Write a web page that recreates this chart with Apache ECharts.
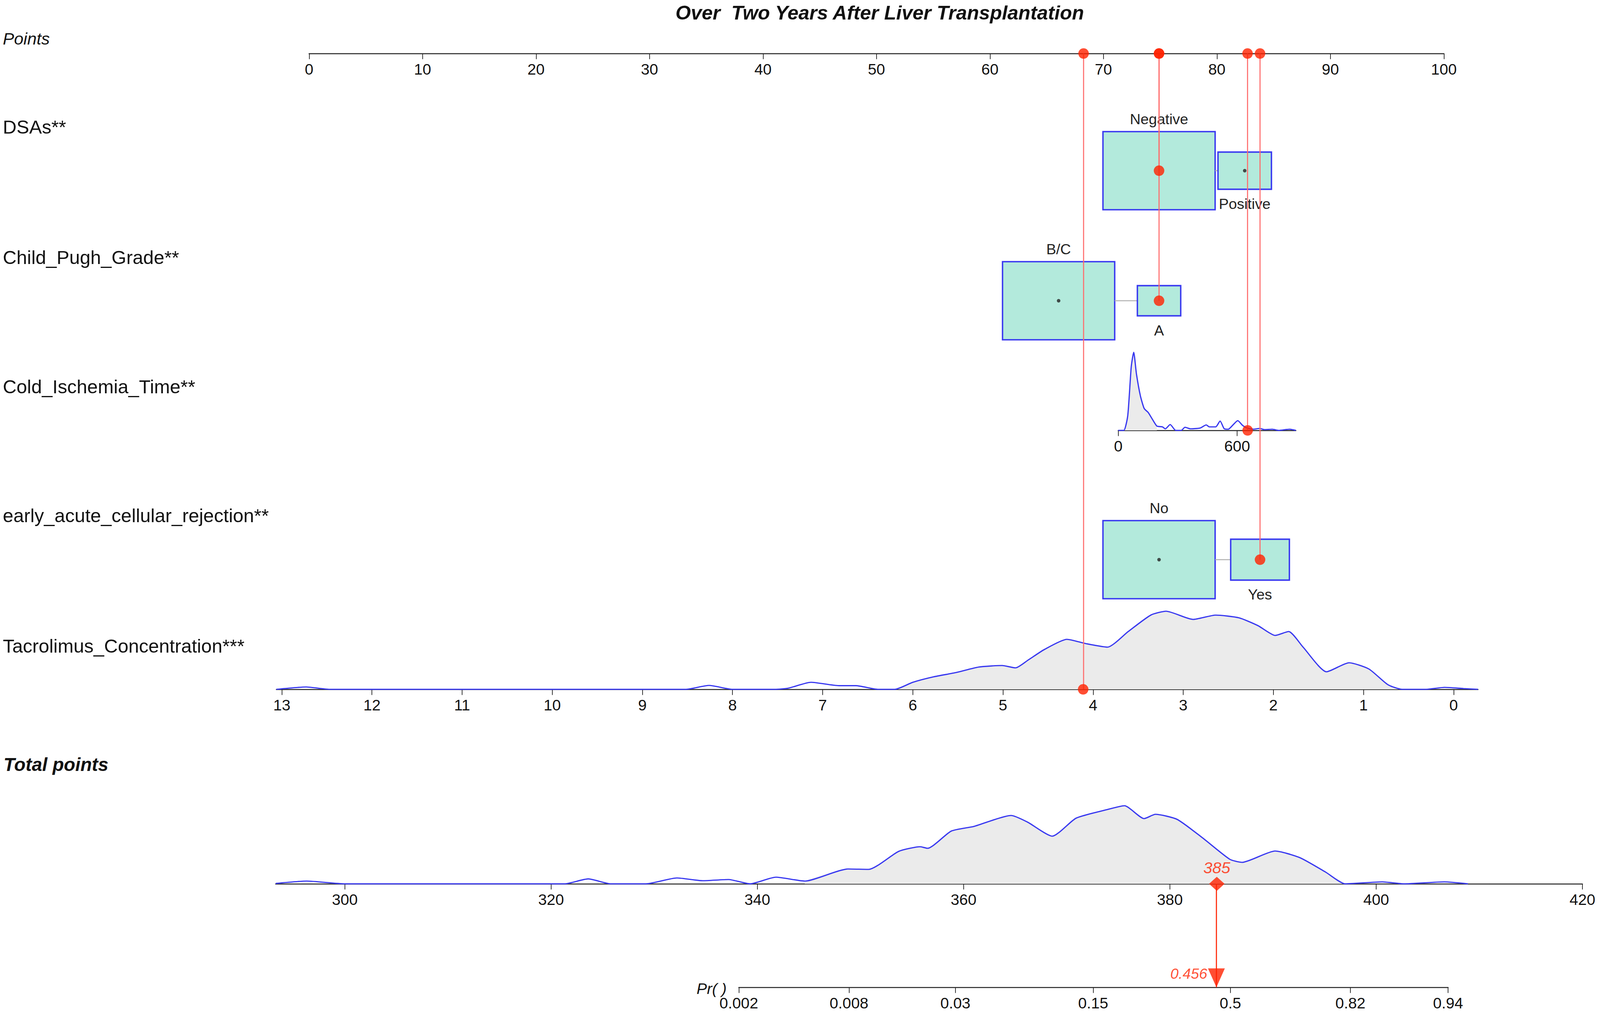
<!DOCTYPE html>
<html lang="en">
<head>
<meta charset="UTF-8">
<title>Nomogram - Over Two Years After Liver Transplantation</title>
<script src="https://cdn.jsdelivr.net/npm/echarts@6/dist/echarts.min.js"></script>
<style>
    html, body { margin: 0; padding: 0; background: #fff; overflow: hidden; }
    #main { width: 100vw; height: 100vh; }
</style>
</head>
<body>
<div id="main"></div>
<script type="text/javascript">
// ---------- data ----------
var pointTicks = [0, 10, 20, 30, 40, 50, 60, 70, 80, 90, 100];

// categorical predictors: category, points of its box centre, share of patients
var dsaCats = ['Negative', 'Positive'];
var dsaPts = [74.9, 82.45];
var dsaShare = [0.815, 0.185];

var childCats = ['B/C', 'A'];
var childPts = [66.05, 74.9];
var childShare = [0.87, 0.13];

var rejCats = ['No', 'Yes'];
var rejPts = [74.9, 83.8];
var rejShare = [0.785, 0.215];

// Cold_Ischemia_Time: ticks + density (value, relative height)
var coldTicks = [0, 600];
var coldDens = [[0, 0], [28, 0], [48, 0.19], [65.6, 0.815], [78, 1.0], [91.7, 0.725], [111.5, 0.445],
    [131, 0.28], [151, 0.23], [167, 0.165], [195, 0.055], [222.7, 0.045], [238, 0.02], [262, 0.075],
    [290, 0], [317.6, 0], [337, 0.04], [365, 0.02], [413, 0.03], [444, 0.07], [460, 0.045], [492, 0.045],
    [514, 0.12], [535, 0.02], [555, 0.015], [579, 0.07], [603, 0.125], [627, 0.065], [650, 0.03],
    [682, 0.015], [714, 0.025], [737, 0.01], [777, 0.015], [809, 0], [864, 0.015], [896, 0]];
var coldFill = [28, 195];

// Tacrolimus_Concentration (reversed scale)
var tacroTicks = [0, 1, 2, 3, 4, 5, 6, 7, 8, 9, 10, 11, 12, 13];
var tacroDens = [[13.06, 0], [12.73, 0.03], [12.47, 0], [8.52, 0], [8.26, 0.05], [8.0, 0], [7.53, 0],
    [7.38, 0.015], [7.13, 0.09], [6.82, 0.047], [6.63, 0.047], [6.39, 0], [6.2, 0], [6.0, 0.09],
    [5.77, 0.16], [5.52, 0.215], [5.27, 0.285], [5.01, 0.305], [4.86, 0.275], [4.72, 0.375],
    [4.54, 0.51], [4.29, 0.64], [4.08, 0.585], [3.84, 0.54], [3.61, 0.74], [3.36, 0.95], [3.19, 1.0],
    [2.89, 0.895], [2.64, 0.95], [2.38, 0.915], [2.17, 0.815], [1.98, 0.69], [1.83, 0.74], [1.67, 0.54],
    [1.41, 0.225], [1.16, 0.34], [0.94, 0.26], [0.73, 0.06], [0.57, 0], [0.31, 0], [0.10, 0.025],
    [-0.11, 0.01], [-0.27, 0]];
var tacroFill = [0.57, 6.2];

// Total points
var totalTicks = [300, 320, 340, 360, 380, 400, 420];
var totalDens = [[293.3, 0.005], [296.3, 0.035], [300, 0], [321.3, 0], [323.6, 0.063], [325.8, 0],
    [329.2, 0], [332.2, 0.075], [334.7, 0.04], [337.2, 0.055], [339.3, 0], [341.8, 0.085], [344.6, 0.035],
    [348.8, 0.19], [350.8, 0.185], [353.7, 0.415], [355.8, 0.475], [356.5, 0.455], [358.8, 0.675],
    [361, 0.735], [364.6, 0.875], [366.2, 0.79], [368.6, 0.61], [370.9, 0.84], [373.9, 0.95],
    [375.6, 1.0], [377.5, 0.835], [378.6, 0.89], [380.7, 0.825], [383.2, 0.585], [385.8, 0.315],
    [387, 0.275], [390.2, 0.42], [392.6, 0.335], [395.1, 0.15], [397, 0], [400.6, 0.025], [402.7, 0],
    [406.6, 0.025], [408.9, 0]];
var totalFill = [344.6, 397];

// probability scale
var prTicks = [0.002, 0.008, 0.03, 0.15, 0.5, 0.82, 0.94];

// the patient marked in red
var selDSA = 'Negative', selChild = 'A', selCold = 653, selRej = 'Yes', selTacro = 4.11;
var selPoints = [74.9, 74.9, 82.7, 83.8, 68.25]; // DSAs, Child_Pugh, Cold, rejection, Tacrolimus
var selProb = 0.456;

// ---------- layout / style (designed on a 4550 x 2604 page, scaled to the real one) ----------
var chart = echarts.init(document.getElementById('main'), null, { renderer: 'svg' });
var SX = chart.getWidth() / 4550, SY = chart.getHeight() / 2604, SF = Math.min(SX, SY);
function X(v) { return v * SX; }
function Y(v) { return v * SY; }
function F(v) { return v * SF; }

var FONT = '"Liberation Sans", Arial, sans-serif';
var rowY = { points: 137, dsa: 437, child: 770, cold: 1102, rej: 1433, tacro: 1765 };
var BOX_W = 319, BOX_H = 200;
var RED = '#ff2200', GUIDE = '#ff6b6b', BLUE = '#3838f0', MINT = '#b3eadc', GREY = '#ebebeb';

function logit(p) { return Math.log(p / (1 - p)); }

var totalSel = selPoints.reduce(function (a, b) { return a + b; }, 0);

function xAx(grid, min, max, ticks, fmt, extra) {
    var a = {
        gridIndex: grid, type: 'value', min: min, max: max, position: 'bottom',
        axisLine: { show: true, onZero: false, lineStyle: { color: '#222', width: F(3) } },
        axisTick: { show: true, length: F(16), customValues: ticks, lineStyle: { color: '#222', width: F(2) } },
        axisLabel: { show: true, margin: F(22), customValues: ticks, color: '#111', fontSize: F(44), fontFamily: FONT },
        splitLine: { show: false }
    };
    if (fmt) a.axisLabel.formatter = fmt;
    if (extra) for (var k in extra) a[k] = extra[k];
    return a;
}
function hidden(grid, min, max, inverse) {
    return { gridIndex: grid, type: 'value', min: min, max: max, inverse: !!inverse, show: false,
        axisLine: { onZero: false }, splitLine: { show: false } };
}
function gridAt(left, width, top, height) {
    return { left: X(left), width: X(width), top: Y(top), height: Y(height), outerBoundsMode: 'none' };
}

function boxSeries(cats, pts, share, y) {
    var maxShare = Math.max.apply(null, share);
    return {
        type: 'custom', xAxisIndex: 1, yAxisIndex: 1, z: 3, clip: false, silent: true,
        data: pts.map(function (p, i) { return [p, y, share[i]]; }),
        renderItem: function (params, api) {
            var i = params.dataIndex;
            var c = api.coord([api.value(0), api.value(1)]);
            var s = Math.sqrt(api.value(2) / maxShare);
            var w = X(BOX_W) * s, h = Y(BOX_H) * s;
            var kids = [];
            if (i > 0) {
                var c0 = api.coord([pts[i - 1], y]);
                var w0 = X(BOX_W) * Math.sqrt(share[i - 1] / maxShare);
                kids.push({ type: 'line', shape: { x1: c0[0] + w0 / 2, y1: c[1], x2: c[0] - w / 2, y2: c[1] },
                    style: { stroke: '#b0b0b0', lineWidth: F(3) } });
            }
            kids.push({ type: 'rect', shape: { x: c[0] - w / 2, y: c[1] - h / 2, width: w, height: h },
                style: { fill: MINT, stroke: BLUE, lineWidth: F(4) } });
            kids.push({ type: 'text', style: { text: cats[i], x: c[0],
                y: i === 0 ? c[1] - h / 2 - Y(32) : c[1] + h / 2 + Y(37),
                fill: '#222', fontSize: F(42), fontFamily: FONT, align: 'center', verticalAlign: 'middle' } });
            return { type: 'group', children: kids };
        }
    };
}

function densitySeries(gi, dens, fill) {
    var sub = dens.filter(function (d) { return d[0] >= fill[0] && d[0] <= fill[1]; });
    return [
        { type: 'line', xAxisIndex: gi, yAxisIndex: gi, data: sub, showSymbol: false, smooth: 0.2,
          lineStyle: { opacity: 0 }, areaStyle: { color: GREY, opacity: 1 }, clip: false, z: 2, silent: true },
        { type: 'line', xAxisIndex: gi, yAxisIndex: gi, data: dens, showSymbol: false, smooth: 0.2,
          lineStyle: { color: BLUE, width: F(3.5) }, clip: false, z: 3, silent: true }
    ];
}

function label(text, left, cy, size, weight, style) {
    return { text: text, left: X(left), top: Y(cy) - F(size) / 2, padding: 0,
        textStyle: { fontSize: F(size), lineHeight: F(size), fontFamily: FONT, color: '#111',
            fontWeight: weight || 'normal', fontStyle: style || 'normal' } };
}

var lp = logit(selProb);
var boxRedDots = [
    [dsaPts[dsaCats.indexOf(selDSA)], rowY.dsa],
    [childPts[childCats.indexOf(selChild)], rowY.child],
    [rejPts[rejCats.indexOf(selRej)], rowY.rej]
];
var boxBlackDots = [];
[[dsaCats, dsaPts, selDSA, rowY.dsa], [childCats, childPts, selChild, rowY.child], [rejCats, rejPts, selRej, rowY.rej]]
    .forEach(function (r) {
        r[0].forEach(function (c, i) { if (c !== r[2]) boxBlackDots.push([r[1][i], r[3]]); });
    });
var guideRows = [rowY.dsa, rowY.child, rowY.cold, rowY.rej, rowY.tacro];

var option = {
    animation: false,
    backgroundColor: '#fff',
    title: [
        label('Over\u00a0 Two Years After Liver Transplantation', 1921, 32, 56, 'bold', 'italic'),
        label('Points', 8, 99, 48, 'normal', 'italic'),
        label('DSAs**', 8, 325, 54),
        label('Child_Pugh_Grade**', 8, 659, 54),
        label('Cold_Ischemia_Time**', 8, 990, 54),
        label('early_acute_cellular_rejection**', 8, 1320, 54),
        label('Tacrolimus_Concentration***', 8, 1654, 54),
        label('Total points', 10, 1957, 53, 'bold', 'italic'),
        label('Pr( )', 1981, 2531, 44, 'normal', 'italic')
    ],
    grid: [
        gridAt(879, 3227, 37, 100),     // points
        gridAt(879, 3227, 0, 2604),     // overlay in points units
        gridAt(3180, 505, 902, 200),    // cold ischemia
        gridAt(786, 3417, 1565, 200),   // tacrolimus
        gridAt(784, 3716, 2063, 200),   // total points
        gridAt(2101, 2017, 2263, 265)   // probability
    ],
    xAxis: [
        xAx(0, 0, 100, pointTicks),
        hidden(1, 0, 100),
        xAx(2, 0, 896, coldTicks),
        xAx(3, -0.27, 13.06, tacroTicks, null, { inverse: true }),
        xAx(4, 293.3, 420, totalTicks),
        xAx(5, logit(prTicks[0]), logit(prTicks[prTicks.length - 1]), prTicks.map(logit), function (v) {
            var p = 1 / (1 + Math.exp(-v)), best = prTicks[0];
            prTicks.forEach(function (t) { if (Math.abs(t - p) < Math.abs(best - p)) best = t; });
            return String(best);
        })
    ],
    yAxis: [
        hidden(0, 0, 1),
        hidden(1, 0, 2604, true),
        hidden(2, 0, 1),
        hidden(3, 0, 1),
        hidden(4, 0, 1),
        hidden(5, 0, 1)
    ],
    series: [].concat(
        [
            boxSeries(dsaCats, dsaPts, dsaShare, rowY.dsa),
            boxSeries(childCats, childPts, childShare, rowY.child),
            boxSeries(rejCats, rejPts, rejShare, rowY.rej),
            { type: 'scatter', xAxisIndex: 1, yAxisIndex: 1, data: boxBlackDots, symbolSize: F(10),
              itemStyle: { color: '#222' }, z: 4, clip: false, silent: true }
        ],
        densitySeries(2, coldDens, coldFill),
        densitySeries(3, tacroDens, tacroFill),
        densitySeries(4, totalDens, totalFill),
        [
            // red guide lines from the points scale down to each predictor
            { type: 'custom', xAxisIndex: 1, yAxisIndex: 1, z: 5, clip: false, silent: true,
              data: selPoints.map(function (p, i) { return [p, guideRows[i]]; }),
              renderItem: function (params, api) {
                  var a = api.coord([api.value(0), rowY.points]);
                  var b = api.coord([api.value(0), api.value(1)]);
                  return { type: 'line', shape: { x1: a[0], y1: a[1], x2: b[0], y2: b[1] },
                      style: { stroke: GUIDE, lineWidth: F(3) } };
              } },
            { type: 'scatter', xAxisIndex: 0, yAxisIndex: 0, z: 6, clip: false, silent: true,
              data: selPoints.map(function (p) { return [p, 0]; }), symbolSize: F(30), itemStyle: { color: RED } },
            { type: 'scatter', xAxisIndex: 1, yAxisIndex: 1, z: 6, clip: false, silent: true,
              data: boxRedDots, symbolSize: F(30), itemStyle: { color: RED } },
            { type: 'scatter', xAxisIndex: 2, yAxisIndex: 2, z: 6, clip: false, silent: true,
              data: [[selCold, 0]], symbolSize: F(30), itemStyle: { color: RED } },
            { type: 'scatter', xAxisIndex: 3, yAxisIndex: 3, z: 6, clip: false, silent: true,
              data: [[selTacro, 0]], symbolSize: F(30), itemStyle: { color: RED } },
            { type: 'scatter', xAxisIndex: 4, yAxisIndex: 4, z: 6, clip: false, silent: true,
              data: [[totalSel, 0]], symbol: 'diamond', symbolSize: [F(44), F(40)], itemStyle: { color: RED },
              label: { show: true, position: 'top', distance: F(2), formatter: String(Math.round(totalSel)),
                  color: RED, fontStyle: 'italic', fontSize: F(46), lineHeight: F(46), fontFamily: FONT } },
            { type: 'line', xAxisIndex: 5, yAxisIndex: 5, z: 5, clip: false, silent: true,
              data: [[lp, 1], [lp, 0]], showSymbol: false, lineStyle: { color: RED, width: F(3) } },
            { type: 'scatter', xAxisIndex: 5, yAxisIndex: 5, z: 6, clip: false, silent: true,
              data: [[lp, 0]], symbol: 'triangle', symbolRotate: 180, symbolSize: [F(48), F(54)],
              symbolOffset: [0, -F(27)], itemStyle: { color: RED },
              label: { show: true, position: 'left', distance: F(2), offset: [0, -F(12)],
                  formatter: selProb.toFixed(3), color: RED, fontStyle: 'italic', fontSize: F(42),
                  fontFamily: FONT } }
        ]
    )
};
chart.setOption(option);
</script>
</body>
</html>
